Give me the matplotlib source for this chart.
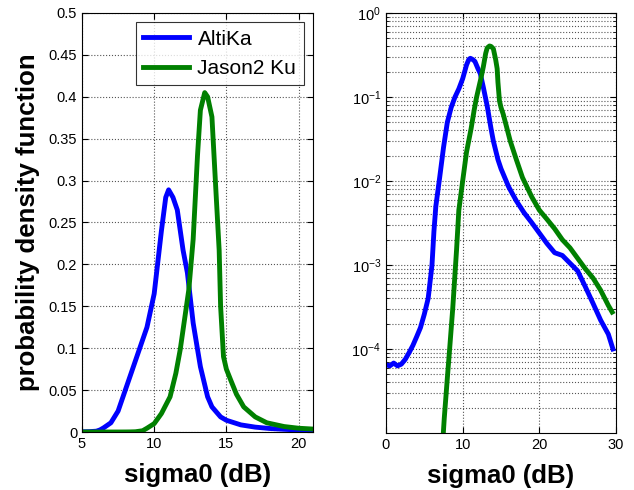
import numpy as np
import matplotlib
matplotlib.use("Agg")
import matplotlib.pyplot as plt
from matplotlib.ticker import FixedLocator, LogLocator, NullFormatter

plt.rcParams['font.family'] = ['Liberation Sans', 'DejaVu Sans']
plt.rcParams['mathtext.fontset'] = 'custom'
plt.rcParams['mathtext.rm'] = 'Liberation Sans'

# AltiKa (blue)
altika_x = [0, 0.5, 1, 1.5, 2, 2.5, 3, 3.5, 4, 4.5, 5, 5.5, 6, 6.25, 6.5, 7, 7.5, 8, 8.5, 9,
            9.5, 10, 10.5, 10.8, 11, 11.3, 11.6, 12, 12.3, 12.7, 13.2, 13.7, 14, 14.6, 15, 16,
            17, 18, 19, 20, 21, 22, 23, 24, 25, 26, 27, 28, 29, 29.6]
altika_y = [6.5e-5, 6.3e-5, 6.8e-5, 6.3e-5, 6.6e-5, 7.5e-5, 9.0e-5, 1.1e-4, 1.4e-4, 1.8e-4,
            2.6e-4, 4.0e-4, 1.0e-3, 2.5e-3, 5e-3, 0.011, 0.025, 0.050, 0.075, 0.100,
            0.125, 0.165, 0.24, 0.28, 0.289, 0.28, 0.265, 0.217, 0.19, 0.13, 0.078, 0.042,
            0.030, 0.018, 0.014, 0.0085, 0.0058, 0.0042, 0.0032, 0.0024, 0.0018, 0.0014,
            0.0013, 1.05e-3, 8.5e-4, 5.5e-4, 3.5e-4, 2.2e-4, 1.5e-4, 1.0e-4]

# Jason2 Ku (green)
jason_x = [0, 5, 7.0, 7.2, 7.6, 8.0, 8.3, 8.7, 9.2, 9.5, 10.0, 10.5, 11.1, 11.5, 11.8, 12.4,
           12.7, 13.0, 13.2, 13.5, 13.7, 14.0, 14.3, 14.5, 14.6, 14.8, 15.0, 15.3, 15.7,
           16.2, 17.0, 17.8, 19.0, 20.0, 21.0, 22.0, 23.0, 24.0, 25.0, 26.0, 27.0, 28.0,
           29.0, 29.5]
jason_y = [0, 0, 0, 4e-6, 1.5e-5, 4.5e-5, 1.0e-4, 3.0e-4, 1.5e-3, 4.5e-3, 0.010, 0.022,
           0.042, 0.07, 0.098, 0.17, 0.23, 0.33, 0.384, 0.405, 0.40, 0.376, 0.28, 0.217,
           0.15, 0.09, 0.075, 0.062, 0.045, 0.03, 0.018, 0.011, 0.0065, 0.0045, 0.0035,
           0.0027, 0.002, 0.0016, 0.0012, 9e-4, 7e-4, 5e-4, 3.3e-4, 2.75e-4]

lin_yticks = [0, 0.05, 0.1, 0.15, 0.2, 0.25, 0.3, 0.35, 0.4, 0.45, 0.5]
lin_yticklabels = ['0', '0.05', '0.1', '0.15', '0.2', '0.25', '0.3', '0.35', '0.4', '0.45', '0.5']
lin_xticks = [5, 10, 15, 20]
log_xticks = [0, 10, 20, 30]
log_yticks = [1e-4, 1e-3, 1e-2, 1e-1, 1e0]

blue = '#0000ff'
green = '#008000'
lw = 3.5

fig = plt.figure(figsize=(6.34, 4.90), dpi=100)
ax1 = fig.add_axes([82/634, 58/490, 231/634, 419/490])
ax2 = fig.add_axes([386/634, 57/490, 230/634, 420/490])

ax1.plot(altika_x, altika_y, color=blue, lw=lw, label='AltiKa')
ax1.plot(jason_x, jason_y, color=green, lw=lw, label='Jason2 Ku')
ax1.set_xlim(5, 21)
ax1.set_ylim(0, 0.5)
ax1.set_xticks(lin_xticks)
ax1.set_yticks(lin_yticks)
ax1.set_yticklabels(lin_yticklabels)
ax1.grid(True, linestyle=':', color='#555555', linewidth=0.8)
ax1.set_xlabel('sigma0 (dB)', fontsize=18.5, fontweight='bold', labelpad=9)
ax1.set_ylabel('probability density function', fontsize=18.5, fontweight='bold', labelpad=6)
leg = ax1.legend(loc='upper right', fontsize=15, frameon=True, fancybox=False,
                 edgecolor='black', handlelength=2.2, borderaxespad=0.45,
                 borderpad=0.35, labelspacing=0.5, handletextpad=0.4)
leg.get_frame().set_linewidth(0.8)

ya = np.array(altika_y, dtype=float)
yj = np.array(jason_y, dtype=float)
ax2.plot(altika_x, np.where(ya > 0, ya, np.nan), color=blue, lw=lw)
ax2.plot(jason_x, np.where(yj > 0, yj, np.nan), color=green, lw=lw)
ax2.set_yscale('log')
ax2.set_xlim(0, 30)
ax2.set_ylim(1e-5, 1)
ax2.set_xticks(log_xticks)
ax2.yaxis.set_major_locator(FixedLocator(log_yticks))
ax2.yaxis.set_minor_locator(LogLocator(base=10, subs=np.arange(2, 10)))
ax2.yaxis.set_minor_formatter(NullFormatter())
ax2.grid(True, which='major', linestyle=':', color='#555555', linewidth=0.8)
ax2.grid(True, which='minor', axis='y', linestyle=':', color='#555555', linewidth=0.8)
ax2.set_xlabel('sigma0 (dB)', fontsize=18.5, fontweight='bold', labelpad=9)

for ax in (ax1, ax2):
    ax.tick_params(which='both', direction='in', top=True, right=True, labelsize=10.5)
    ax.tick_params(which='major', length=4)
    ax.tick_params(which='minor', length=2)
    for s in ax.spines.values():
        s.set_linewidth(0.8)

fig.savefig('out.png', dpi=100)
